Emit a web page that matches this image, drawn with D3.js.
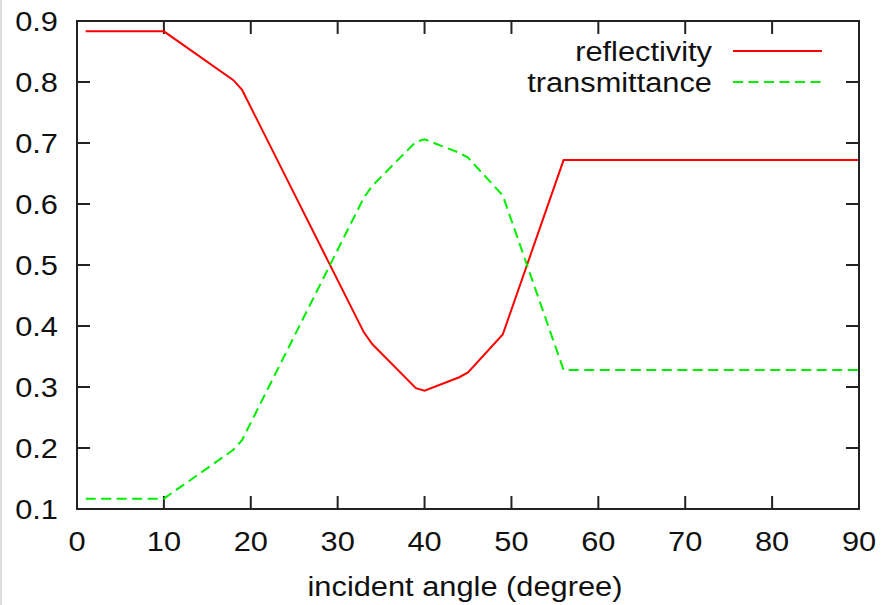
<!DOCTYPE html>
<html><head><meta charset="utf-8">
<script src="https://cdn.jsdelivr.net/npm/d3@7"></script>
<style>html,body{margin:0;padding:0;background:#fff;}svg{display:block;}</style>
</head><body>
<script>
const angles = [1, 10, 18, 19, 33, 34, 39, 40, 44, 45, 49, 56, 90];
const reflectivity = [0.883, 0.883, 0.803, 0.787, 0.390, 0.370, 0.298, 0.294, 0.316, 0.324, 0.386, 0.672, 0.672];
const transmittance = [0.117, 0.117, 0.197, 0.213, 0.610, 0.630, 0.702, 0.706, 0.684, 0.676, 0.614, 0.328, 0.328];
const xTicks = [0, 10, 20, 30, 40, 50, 60, 70, 80, 90];
const yTicks = [0.1, 0.2, 0.3, 0.4, 0.5, 0.6, 0.7, 0.8, 0.9];
const seriesNames = ["reflectivity", "transmittance"];
const xLabel = "incident angle (degree)";

const W = 882, H = 605;
const L = 77, R = 859, T = 21, B = 509;
const SX = 1.1; // horizontal stretch of text as in reference
const FS = 28;
const svg = d3.select("body").append("svg").attr("width", W).attr("height", H);
svg.append("rect").attr("x", 0).attr("y", 0).attr("width", 2).attr("height", H).attr("fill", "#ddd");

const x = d3.scaleLinear().domain([0, 90]).range([L, R]);
const y = d3.scaleLinear().domain([0.1, 0.9]).range([B, T]);
const font = "'Liberation Sans', Arial, Helvetica, sans-serif";
const axisColor = "#222";

function label(px, py, txt, anchor) {
  return svg.append("text")
    .attr("transform", `translate(${px},${py}) scale(${SX},1)`)
    .attr("text-anchor", anchor)
    .attr("font-family", font).attr("font-size", FS).attr("fill", "#111")
    .text(txt);
}

// ticks (inward, mirrored)
const tk = 13;
const g = svg.append("g").attr("stroke", axisColor).attr("stroke-width", 2);
xTicks.forEach(v => {
  g.append("line").attr("x1", x(v)).attr("x2", x(v)).attr("y1", B).attr("y2", B - tk);
  g.append("line").attr("x1", x(v)).attr("x2", x(v)).attr("y1", T).attr("y2", T + tk);
});
yTicks.forEach(v => {
  g.append("line").attr("x1", L).attr("x2", L + tk).attr("y1", y(v)).attr("y2", y(v));
  g.append("line").attr("x1", R).attr("x2", R - tk).attr("y1", y(v)).attr("y2", y(v));
});

// tick labels
xTicks.forEach(v => label(x(v), 551, String(v), "middle"));
yTicks.forEach(v => label(58, y(v) + 10, d3.format(".1f")(v), "end"));

label(465, 596, xLabel, "middle");

// lines
const line = d3.line().x(d => x(d[0])).y(d => y(d[1]));
const rData = angles.map((a, i) => [a, reflectivity[i]]);
const tData = angles.map((a, i) => [a, transmittance[i]]);
const colors = ["#ff0000", "#00ee00"];
const dashes = [null, "10,5.5"];
svg.append("path").datum(rData).attr("d", line).attr("fill", "none")
  .attr("stroke", colors[0]).attr("stroke-width", 2);
svg.append("path").datum(tData).attr("d", line).attr("fill", "none")
  .attr("stroke", colors[1]).attr("stroke-width", 2).attr("stroke-dasharray", dashes[1]);

// legend
seriesNames.forEach((n, i) => {
  const ly = 51 + i * 31;
  label(712, ly + 10, n, "end");
  const l = svg.append("line").attr("x1", 733).attr("x2", 822).attr("y1", ly).attr("y2", ly)
    .attr("stroke", colors[i]).attr("stroke-width", 2);
  if (dashes[i]) l.attr("stroke-dasharray", dashes[i]);
});

// frame
svg.append("rect").attr("x", L).attr("y", T).attr("width", R - L).attr("height", B - T)
  .attr("fill", "none").attr("stroke", axisColor).attr("stroke-width", 2);
</script>
</body></html>
